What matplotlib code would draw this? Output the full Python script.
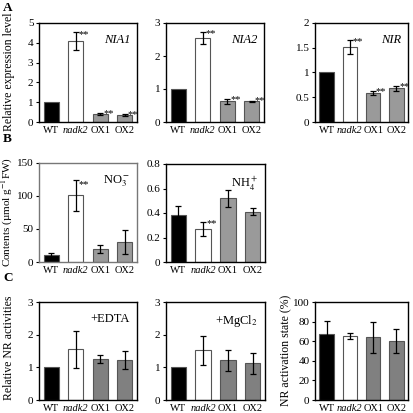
import matplotlib.pyplot as plt
import numpy as np

plt.rcParams['font.family'] = ['Liberation Serif', 'DejaVu Serif']
plt.rcParams['mathtext.fontset'] = 'stix'

labels = ["WT", "nadk2", "OX1", "OX2"]
colors = ["black", "white", "#9a9a9a", "#9a9a9a"]
colors_c = ["black", "white", "#808080", "#808080"]

nia1 = [1.0, 4.1, 0.40, 0.35]
nia1_err = [0, 0.45, 0.04, 0.03]
nia2 = [1.0, 2.55, 0.63, 0.63]
nia2_err = [0, 0.18, 0.08, 0.02]
nir = [1.0, 1.52, 0.58, 0.68]
nir_err = [0, 0.14, 0.04, 0.05]

no3 = [10, 101, 20, 30]
no3_err = [3, 23, 6, 18]
nh4 = [0.38, 0.27, 0.52, 0.41]
nh4_err = [0.08, 0.06, 0.07, 0.03]

edta = [1.0, 1.55, 1.25, 1.23]
edta_err = [0, 0.57, 0.12, 0.27]
mgcl = [1.0, 1.52, 1.22, 1.12]
mgcl_err = [0, 0.45, 0.32, 0.33]
act = [67, 65, 64, 60]
act_err = [14, 3, 16, 12]

W, H = 414, 413
fig = plt.figure(figsize=(W / 100, H / 100), dpi=100)


def mkax(x0, x1, y0, y1):
    return fig.add_axes([x0 / W, 1 - y1 / H, (x1 - x0) / W, (y1 - y0) / H])


def ylab(x, y, s, size=8.5):
    fig.text(x / W, 1 - y / H, s, rotation=90, ha="center", va="center", fontsize=size)


def panel(ax, vals, errs, ymax, yticks, title, stars, cols=colors, ticklabels=None,
          frame="black", italic=False):
    x = np.arange(4)
    ax.bar(x, vals, width=0.62, color=cols, edgecolor="#555555", linewidth=0.8)
    for i in range(4):
        if errs[i] > 0:
            ax.errorbar(x[i], vals[i], yerr=errs[i], color="black", capsize=2.5,
                        elinewidth=0.9, capthick=0.9)
    for i in stars:
        ax.text(x[i] + 0.12, vals[i] + errs[i] * 0.7, "**", fontsize=7.5,
                ha="left", va="center")
    ax.set_xlim(-0.5, 3.5)
    ax.set_ylim(0, ymax)
    ax.set_yticks(yticks)
    if ticklabels is not None:
        ax.set_yticklabels(ticklabels)
    ax.set_xticks(x)
    ax.set_xticklabels(labels)
    ax.get_xticklabels()[1].set_style("italic")
    ax.tick_params(axis="x", length=0, labelsize=7.5, pad=3)
    ax.tick_params(axis="y", length=2, labelsize=8, pad=2)
    for s in ax.spines.values():
        s.set_linewidth(1.0)
        s.set_color(frame)
    ax.text(0.93, 0.89, title, transform=ax.transAxes, ha="right", va="top",
            fontsize=9, style="italic" if italic else "normal")


ax = mkax(39, 137, 23, 122)
panel(ax, nia1, nia1_err, 5, [0, 1, 2, 3, 4, 5], "NIA1", [1, 2, 3], italic=True)

ax = mkax(166, 264, 23, 122)
panel(ax, nia2, nia2_err, 3, [0, 1, 2, 3], "NIA2", [1, 2, 3], italic=True)

ax = mkax(315, 408, 23, 122)
panel(ax, nir, nir_err, 2, [0, 0.5, 1, 1.5, 2], "NIR", [1, 2, 3],
      ticklabels=["0", "0.5", "1", "1.5", "2"], italic=True)

ax = mkax(39, 137, 163, 262)
panel(ax, no3, no3_err, 150, [0, 50, 100, 150], "NO$_3^-$", [1], frame="#777777")

ax = mkax(166, 265, 164, 262)
panel(ax, nh4, nh4_err, 0.8, [0, 0.2, 0.4, 0.6, 0.8], "NH$_4^+$", [1],
      ticklabels=["0", "0.2", "0.4", "0.6", "0.8"])

ax = mkax(39, 137, 302, 400)
panel(ax, edta, edta_err, 3, [0, 1, 2, 3], "+EDTA", [], cols=colors_c)

ax = mkax(166, 265, 302, 400)
panel(ax, mgcl, mgcl_err, 3, [0, 1, 2, 3], "+MgCl$_2$", [], cols=colors_c)

ax = mkax(315, 408, 302, 400)
panel(ax, act, act_err, 100, [0, 20, 40, 60, 80, 100], "", [], cols=colors_c)

ylab(9, 72, "Relative expression level")
ylab(7, 212, "Contents (µmol g$^{-1}$FW)", size=8)
ylab(9, 348, "Relative NR activities")
ylab(286, 350, "NR activation state (%)")

for lab, yy in [("A", 8), ("B", 139), ("C", 278)]:
    fig.text(3 / W, 1 - yy / H, lab, fontsize=9.5, fontweight="bold", va="center")

fig.savefig("out.png", dpi=100)
